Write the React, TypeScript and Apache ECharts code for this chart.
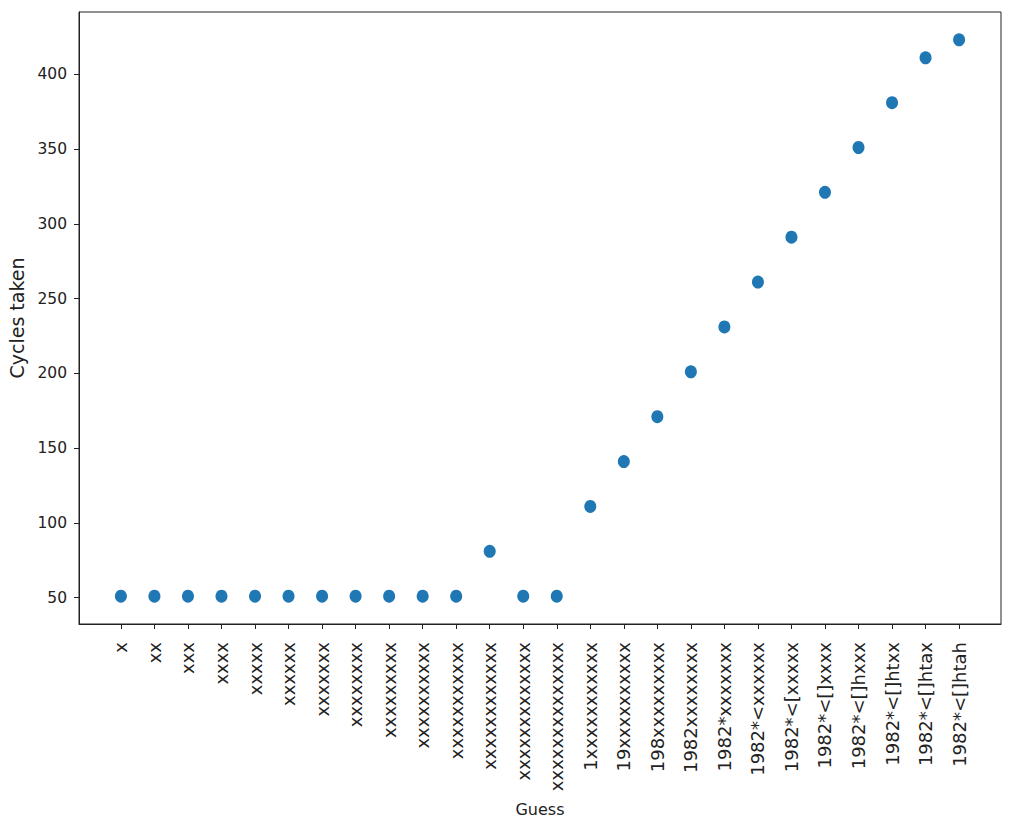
import React, { useEffect, useRef } from "react";
import * as echarts from "echarts";

const guesses: string[] = [
  "x", "xx", "xxx", "xxxx", "xxxxx", "xxxxxx", "xxxxxxx", "xxxxxxxx",
  "xxxxxxxxx", "xxxxxxxxxx", "xxxxxxxxxxx", "xxxxxxxxxxxx", "xxxxxxxxxxxxx", "xxxxxxxxxxxxxx",
  "1xxxxxxxxxxx", "19xxxxxxxxxx", "198xxxxxxxxx", "1982xxxxxxxx", "1982*xxxxxxx", "1982*<xxxxxx",
  "1982*<[xxxxx", "1982*<[]xxxx", "1982*<[]hxxx", "1982*<[]htxx", "1982*<[]htax", "1982*<[]htah",
];

const cycles: number[] = [
  51, 51, 51, 51, 51, 51, 51, 51, 51, 51, 51, 81, 51, 51,
  111, 141, 171, 201, 231, 261, 291, 321, 351, 381, 411, 423,
];

const yTicks: number[] = [50, 100, 150, 200, 250, 300, 350, 400];

export default function App() {
  const ref = useRef<HTMLDivElement>(null);
  useEffect(() => {
    if (!ref.current) return;
    const chart = echarts.init(ref.current, undefined, { renderer: "svg" });
    const idx = guesses.map((_, i) => i);
    const font = "DejaVu Sans";
    chart.setOption({
      animation: false,
      backgroundColor: "#fff",
      grid: {
        left: 79,
        right: 12,
        top: 12,
        bottom: 207,
        show: true,
        borderColor: "#222",
        borderWidth: 1,
        containLabel: false,
        outerBoundsMode: "none",
      },
      xAxis: {
        type: "value",
        min: -1.25,
        max: 26.25,
        name: "Guess",
        nameLocation: "middle",
        nameGap: 177,
        nameTextStyle: { fontFamily: font, fontSize: 16, color: "#222" },
        splitLine: { show: false },
        axisLine: { show: true, onZero: false, lineStyle: { color: "#222" } },
        axisTick: { show: true, customValues: idx, length: 5, lineStyle: { color: "#222" } },
        axisLabel: {
          customValues: idx,
          rotate: 90,
          margin: 18,
          fontFamily: font,
          fontSize: 18,
          color: "#222",
          formatter: (v: number) => guesses[Math.round(v)] ?? "",
        },
      },
      yAxis: {
        type: "value",
        min: 32.4,
        max: 441.6,
        name: "Cycles taken",
        nameLocation: "middle",
        nameGap: 51,
        nameTextStyle: { fontFamily: font, fontSize: 19, color: "#222" },
        splitLine: { show: false },
        axisLine: { show: true, onZero: false, lineStyle: { color: "#222" } },
        axisTick: { show: true, customValues: yTicks, length: 5, lineStyle: { color: "#222" } },
        axisLabel: {
          customValues: yTicks,
          margin: 12,
          fontFamily: font,
          fontSize: 15.5,
          color: "#222",
        },
      },
      series: [
        {
          type: "scatter",
          data: cycles.map((c, i) => [i, c]),
          symbol: "circle",
          symbolSize: [12, 13],
          itemStyle: { color: "#1f77b4", opacity: 1 },
        },
      ],
    });
    return () => chart.dispose();
  }, []);
  return <div ref={ref} style={{ width: 1013, height: 831, position: "absolute", left: 0, top: 0 }} />;
}
